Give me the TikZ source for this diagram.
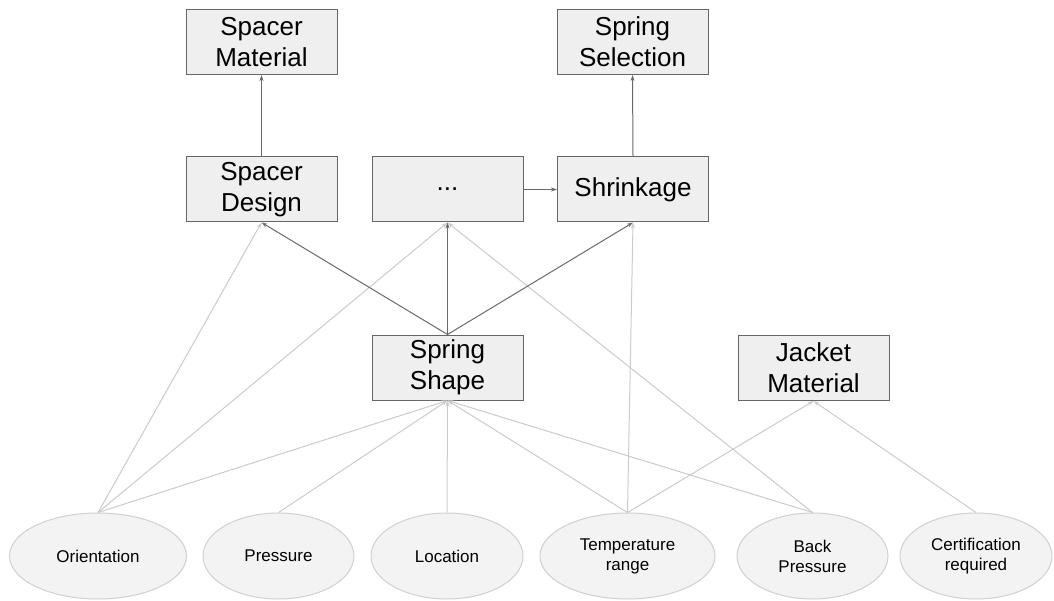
\documentclass[tikz,border=0pt]{standalone}
\usepackage{fontspec}
\setmainfont{Liberation Sans}
\usetikzlibrary{arrows.meta,shapes.geometric}
\definecolor{boxfill}{HTML}{EFEFEF}
\definecolor{boxline}{HTML}{666666}
\definecolor{varfill}{HTML}{F3F3F3}
\definecolor{varline}{HTML}{D0D0D0}
\definecolor{darkline}{HTML}{6A6A6A}
\definecolor{lightline}{HTML}{CBCBCB}
\begin{document}
\begin{tikzpicture}[x=1pt,y=-1pt,
  box/.style={draw=boxline, fill=boxfill, line width=1pt, minimum width=151pt, minimum height=65pt,
    inner sep=0pt, align=center, font=\fontsize{26}{31}\selectfont},
  var/.style={ellipse, draw=varline, fill=varfill, line width=1pt, minimum height=86pt,
    inner sep=0pt, align=center, font=\fontsize{17}{20}\selectfont},
  dep/.style={draw=darkline, line width=1pt, -{Stealth[length=6pt,width=4pt]}},
  obs/.style={draw=lightline, line width=1pt, -{Stealth[length=6pt,width=4pt]}}]
\useasboundingbox (0,0) rectangle (1054,601);

% decisions
\node[box] (smat) at (261.5,42) {Spacer\\Material};
\node[box] (ssel) at (632.5,42) {Spring\\Selection};
\node[box] (sdes) at (261.5,189.5) {Spacer\\Design};
\node[box] (dots) at (447.5,189.5) {...};
\node[box] (shr) at (633,189.5) {Shrinkage};
\node[box] (sshp) at (447.5,367.5) {Spring\\Shape};
\node[box] (jmat) at (813.5,368) {Jacket\\Material};

% requirements
\node[var, minimum width=177pt] (ori) at (98,556) {Orientation};
\node[var, minimum width=151pt] (pre) at (278.5,556) {Pressure};
\node[var, minimum width=152pt] (loc) at (447,556) {Location};
\node[var, minimum width=175pt] (tmp) at (627.5,556) {Temperature\\range};
\node[var, minimum width=151pt] (bpr) at (812.5,556) {Back\\Pressure};
\node[var, minimum width=152pt] (cer) at (976,556) {Certification\\required};

\draw[obs] (ori.north) -- (sdes.south);
\draw[obs] (ori.north) -- (dots.south);
\draw[obs] (ori.north) -- (sshp.south);
\draw[obs] (pre.north) -- (sshp.south);
\draw[obs] (loc.north) -- (sshp.south);
\draw[obs] (tmp.north) -- (sshp.south);
\draw[obs] (tmp.north) -- (shr.south);
\draw[obs] (tmp.north) -- (jmat.south);
\draw[obs] (bpr.north) -- (sshp.south);
\draw[obs] (bpr.north) -- (dots.south);
\draw[obs] (cer.north) -- (jmat.south);

\draw[dep] (sshp.north) -- (sdes.south);
\draw[dep] (sshp.north) -- (dots.south);
\draw[dep] (sshp.north) -- (shr.south);
\draw[dep] (dots.east) -- (shr.west);
\draw[dep] (sdes.north) -- (smat.south);
\draw[dep] (shr.north) -- (ssel.south);
\end{tikzpicture}
\end{document}
